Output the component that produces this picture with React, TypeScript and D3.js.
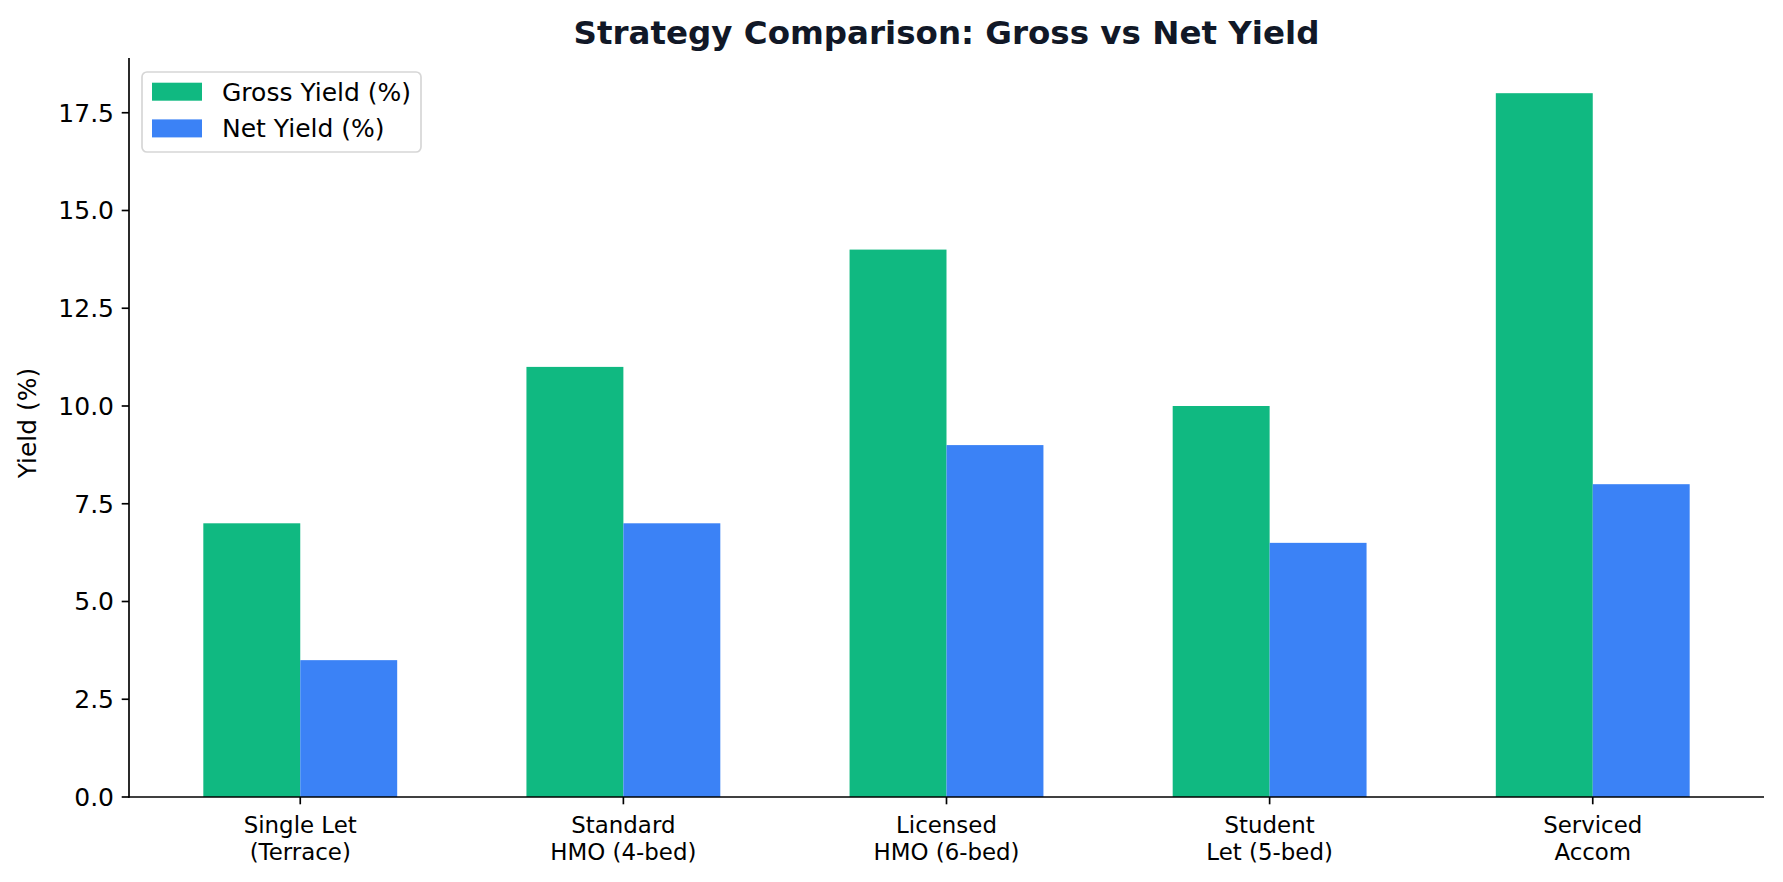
import { useEffect, useRef } from 'react';
import * as d3 from 'd3';

const categories = [
  'Single Let\n(Terrace)',
  'Standard\nHMO (4-bed)',
  'Licensed\nHMO (6-bed)',
  'Student\nLet (5-bed)',
  'Serviced\nAccom',
];
const grossYield = [7, 11, 14, 10, 18];
const netYield = [3.5, 7, 9, 6.5, 8];
const yTicks = [0, 2.5, 5, 7.5, 10, 12.5, 15, 17.5];

const seriesNames = ['Gross Yield (%)', 'Net Yield (%)'];
const seriesColors = ['#10b981', '#3b82f6'];

const WIDTH = 1783;
const HEIGHT = 882;
const FONT = '"DejaVu Sans", Verdana, sans-serif';

export default function App() {
  const svgRef = useRef<SVGSVGElement | null>(null);

  useEffect(() => {
    document.body.style.margin = '0';
    if (!svgRef.current) return;

    const svg = d3.select(svgRef.current);
    svg.selectAll('*').remove();

    const left = 129;
    const right = 1764;
    const top = 58;
    const bottom = 797;

    // matplotlib-style limits: bars of width 0.3 around integer positions, 5% margins
    const barW = 0.3;
    const n = categories.length;
    const dataMin = -barW;
    const dataMax = n - 1 + barW;
    const pad = (dataMax - dataMin) * 0.05;
    const x = d3.scaleLinear().domain([dataMin - pad, dataMax + pad]).range([left, right]);
    const y = d3.scaleLinear().domain([0, 18 * 1.05]).range([bottom, top]);

    svg.append('rect').attr('width', WIDTH).attr('height', HEIGHT).attr('fill', '#ffffff');

    const g = svg.append('g');

    // bars
    const series = [grossYield, netYield];
    series.forEach((values, s) => {
      g.append('g')
        .selectAll('rect')
        .data(values)
        .join('rect')
        .attr('x', (_, i) => x(i + (s === 0 ? -barW : 0)))
        .attr('width', x(barW) - x(0))
        .attr('y', (v) => y(v))
        .attr('height', (v) => y(0) - y(v))
        .attr('fill', seriesColors[s]);
    });

    // spines
    g.append('line')
      .attr('x1', left)
      .attr('x2', left)
      .attr('y1', top)
      .attr('y2', bottom + 0.8)
      .attr('stroke', '#000')
      .attr('stroke-width', 1.67);
    g.append('line')
      .attr('x1', left - 0.8)
      .attr('x2', right)
      .attr('y1', bottom)
      .attr('y2', bottom)
      .attr('stroke', '#000')
      .attr('stroke-width', 1.67);

    // y ticks
    const yt = g.append('g');
    yt.selectAll('line')
      .data(yTicks)
      .join('line')
      .attr('x1', left - 7.3)
      .attr('x2', left)
      .attr('y1', (v) => y(v))
      .attr('y2', (v) => y(v))
      .attr('stroke', '#000')
      .attr('stroke-width', 1.67);
    yt.selectAll('text')
      .data(yTicks)
      .join('text')
      .attr('x', left - 15)
      .attr('y', (v) => y(v) + 9)
      .attr('text-anchor', 'end')
      .attr('font-family', FONT)
      .attr('font-size', 25)
      .attr('fill', '#000')
      .text((v) => v.toFixed(1));

    // x ticks
    const xt = g.append('g');
    xt.selectAll('line')
      .data(categories)
      .join('line')
      .attr('x1', (_, i) => x(i))
      .attr('x2', (_, i) => x(i))
      .attr('y1', bottom)
      .attr('y2', bottom + 7.3)
      .attr('stroke', '#000')
      .attr('stroke-width', 1.67);
    const xLabels = xt
      .selectAll('text')
      .data(categories)
      .join('text')
      .attr('text-anchor', 'middle')
      .attr('font-family', FONT)
      .attr('font-size', 22.9)
      .attr('fill', '#000');
    xLabels
      .selectAll('tspan')
      .data((d, i) => d.split('\n').map((line) => ({ line, i })))
      .join('tspan')
      .attr('x', (d) => x(d.i))
      .attr('y', (_, j) => 832.7 + j * 27.4)
      .text((d) => d.line);

    // y label
    svg.append('text')
      .attr('transform', `translate(35.5,423) rotate(-90)`)
      .attr('text-anchor', 'middle')
      .attr('font-family', FONT)
      .attr('font-size', 25)
      .attr('fill', '#000')
      .text('Yield (%)');

    // title
    svg.append('text')
      .attr('x', (left + right) / 2)
      .attr('y', 43.5)
      .attr('text-anchor', 'middle')
      .attr('font-family', FONT)
      .attr('font-size', 32.5)
      .attr('font-weight', 'bold')
      .attr('fill', '#111827')
      .text('Strategy Comparison: Gross vs Net Yield');

    // legend
    const lg = svg.append('g');
    lg.append('rect')
      .attr('x', 142)
      .attr('y', 72)
      .attr('width', 279)
      .attr('height', 80)
      .attr('rx', 5)
      .attr('fill', '#ffffff')
      .attr('fill-opacity', 0.8)
      .attr('stroke', '#d6d6d6')
      .attr('stroke-width', 1.67);
    seriesNames.forEach((name, s) => {
      lg.append('rect')
        .attr('x', 152)
        .attr('y', 82.7 + s * 36.7)
        .attr('width', 50)
        .attr('height', 18)
        .attr('fill', seriesColors[s]);
      lg.append('text')
        .attr('x', 222)
        .attr('y', 100.7 + s * 36.3)
        .attr('font-family', FONT)
        .attr('font-size', 25)
        .attr('fill', '#000')
        .text(name);
    });
  }, []);

  return <svg ref={svgRef} width={WIDTH} height={HEIGHT} style={{ display: 'block' }} />;
}
